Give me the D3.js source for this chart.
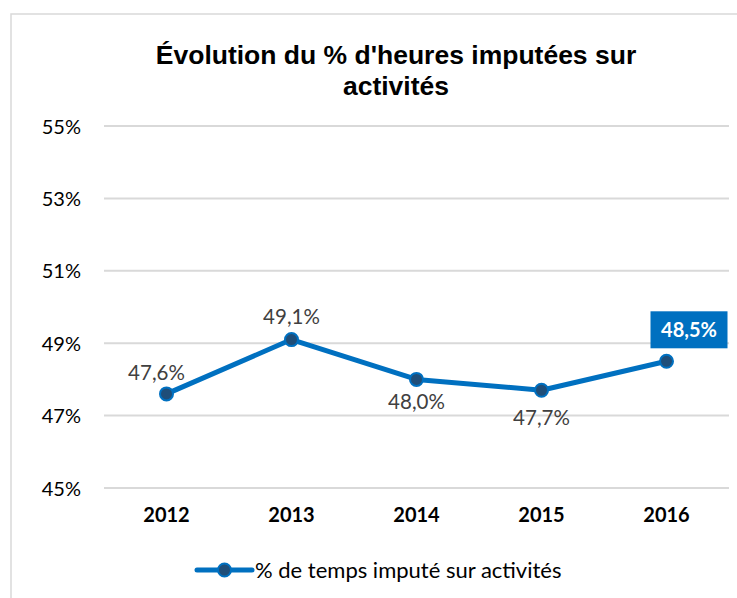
<!DOCTYPE html>
<html>
<head>
<meta charset="utf-8">
<script src="https://cdn.jsdelivr.net/npm/d3@7"></script>
<style>
  body { margin: 0; background: #fff; }
  svg text { font-family: Lato, "Noto Sans", sans-serif; }
</style>
</head>
<body>
<svg id="chart" width="737" height="598"></svg>
<script>
// chart values
var years = ["2012", "2013", "2014", "2015", "2016"];
var values = [47.6, 49.1, 48.0, 47.7, 48.5];
var valueLabels = ["47,6%", "49,1%", "48,0%", "47,7%", "48,5%"];
var yTicks = [45, 47, 49, 51, 53, 55];
var titleLines = ["Évolution du % d'heures imputées sur", "activités"];
var seriesName = "% de temps imputé sur activités";

var svg = d3.select("#chart");
var blue = "#0070C0";
var dark = "#1F4E79";

// outer frame (cut by the picture on right and bottom)
svg.append("rect")
  .attr("x", 11).attr("y", 14)
  .attr("width", 760).attr("height", 620)
  .attr("fill", "none")
  .attr("stroke", "#d9d9d9")
  .attr("stroke-width", 1.5);

// title
svg.selectAll(".title")
  .data(titleLines)
  .enter().append("text")
  .attr("x", 396)
  .attr("y", function(d, i){ return 64 + i * 31 })
  .attr("text-anchor", "middle")
  .style("font-family", "'Liberation Sans', Arial, sans-serif")
  .style("font-weight", "bold")
  .style("font-size", "26.5px")
  .attr("fill", "#000")
  .text(function(d){ return d });

var x = d3.scaleBand().domain(years).range([104, 729]);
var y = d3.scaleLinear().domain([45, 55]).range([488, 126]);

// gridlines
svg.append("g")
  .selectAll("line")
  .data(yTicks)
  .enter().append("line")
  .attr("x1", 104).attr("x2", 729)
  .attr("y1", function(d){ return y(d) })
  .attr("y2", function(d){ return y(d) })
  .attr("stroke", "#d9d9d9")
  .attr("stroke-width", 2);

// y axis labels
var yAxis = d3.axisLeft(y).tickValues(yTicks)
  .tickFormat(function(d){ return d + "%" })
  .tickSize(0).tickPadding(0);
var gy = svg.append("g").attr("transform", "translate(81,0)").call(yAxis);
gy.select(".domain").remove();
gy.selectAll("text")
  .attr("dy", "0.35em")
  .style("font-size", "20px")
  .style("font-family", "Lato, sans-serif")
  .attr("fill", "#000");

// x axis labels
var xAxis = d3.axisBottom(x).tickSize(0).tickPadding(0);
var gx = svg.append("g").attr("transform", "translate(0,508)").call(xAxis);
gx.select(".domain").remove();
gx.selectAll("text")
  .attr("dy", "0.71em")
  .style("font-size", "20px")
  .style("font-weight", "bold")
  .style("font-family", "Lato, sans-serif")
  .attr("fill", "#000");

var pts = years.map(function(d, i){ return {year: d, value: values[i], label: valueLabels[i]} });
var cx = function(d){ return x(d.year) + x.bandwidth() / 2 };

// line
svg.append("path")
  .datum(pts)
  .attr("d", d3.line().x(cx).y(function(d){ return y(d.value) }))
  .attr("fill", "none")
  .attr("stroke", blue)
  .attr("stroke-width", 5)
  .attr("stroke-linejoin", "round");

// markers
svg.selectAll(".dot")
  .data(pts)
  .enter().append("circle")
  .attr("cx", cx)
  .attr("cy", function(d){ return y(d.value) })
  .attr("r", 6.5)
  .attr("fill", dark)
  .attr("stroke", blue)
  .attr("stroke-width", 2);

// data labels: offsets picked to sit like the original
var labelShift = [[-10, -14], [0, -16], [0, 30], [0, 35], [0, 0]];
pts.forEach(function(d, i){
  var px = cx(d) + labelShift[i][0];
  var py = y(d.value) + labelShift[i][1];
  if (i == pts.length - 1) {
    svg.append("rect")
      .attr("x", cx(d) - 16).attr("y", y(d.value) - 50)
      .attr("width", 77).attr("height", 37)
      .attr("fill", blue);
    svg.append("text")
      .attr("x", cx(d) + 22.5).attr("y", y(d.value) - 24)
      .attr("text-anchor", "middle")
      .style("font-size", "20px")
      .style("font-weight", "bold")
      .attr("fill", "#fff")
      .text(d.label);
  } else {
    svg.append("text")
      .attr("x", px).attr("y", py)
      .attr("text-anchor", "middle")
      .style("font-size", "20.5px")
      .attr("fill", "#404040")
      .text(d.label);
  }
});

// legend
var leg = svg.append("g").attr("transform", "translate(197,570)");
leg.append("line")
  .attr("x1", 0).attr("x2", 55)
  .attr("stroke", blue).attr("stroke-width", 5)
  .attr("stroke-linecap", "round");
leg.append("circle")
  .attr("cx", 27.5).attr("r", 6.5)
  .attr("fill", dark).attr("stroke", blue).attr("stroke-width", 2);
leg.append("text")
  .attr("x", 58).attr("dy", "0.35em")
  .style("font-size", "22px")
  .attr("fill", "#000")
  .text(seriesName);
</script>
</body>
</html>
